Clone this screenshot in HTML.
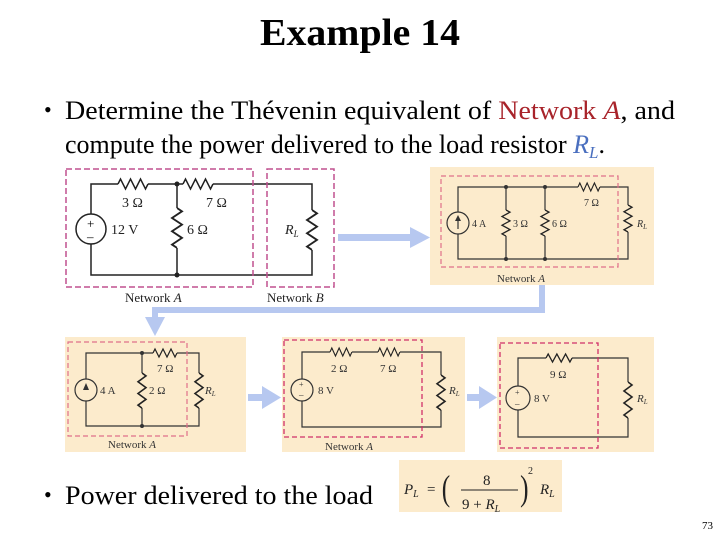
<!DOCTYPE html>
<html><head><meta charset="utf-8"><style>
html,body{margin:0;padding:0;background:#fff;width:720px;height:540px;overflow:hidden}
svg{display:block}
text{font-family:"Liberation Serif",serif}
</style></head><body>
<svg width="720" height="540" viewBox="0 0 720 540" xmlns="http://www.w3.org/2000/svg">
<defs>
<path id="zz" d="M0 5 L2.5 0 L7.5 10 L12.5 0 L17.5 10 L22.5 0 L27.5 10 L30 5" fill="none" stroke="#222" stroke-width="1.5"/>
</defs>
<text x="360" y="45" text-anchor="middle" font-size="38" font-weight="bold" textLength="200" lengthAdjust="spacingAndGlyphs">Example 14</text>
<text x="44" y="117" font-size="22">•</text>
<text x="65" y="119" font-size="26" textLength="610" lengthAdjust="spacingAndGlyphs">Determine the Thévenin equivalent of <tspan fill="#a8232a">Network <tspan font-style="italic">A</tspan></tspan>, and</text>
<text x="65" y="153" font-size="26" textLength="540" lengthAdjust="spacingAndGlyphs">compute the power delivered to the load resistor <tspan fill="#4a6fbf" font-style="italic">R<tspan font-size="17" dy="5">L</tspan></tspan><tspan dy="-5">.</tspan></text>

<!-- top-left circuit -->
<g stroke="#222" stroke-width="1.5" fill="none">
<path d="M91 214 V184 H118 M148 184 H183 M213 184 H312 V210 M312 250 V275 H91 V244 M177 184 V208 M177 248 V275"/>
<circle cx="91" cy="229" r="15"/>
</g>
<use href="#zz" transform="translate(118,179)"/>
<use href="#zz" transform="translate(183,179)"/>
<use href="#zz" transform="translate(182,208) rotate(90) scale(1.33,1)"/>
<use href="#zz" transform="translate(317,210) rotate(90) scale(1.33,1)"/>
<circle cx="177" cy="184" r="2.5" fill="#222"/><circle cx="177" cy="275" r="2.5" fill="#222"/>
<text x="87" y="228" font-size="13">+</text><text x="87" y="241" font-size="13">–</text>
<g font-size="14" fill="#222">
<text x="122" y="207">3 Ω</text><text x="206" y="207">7 Ω</text>
<text x="111" y="234">12 V</text><text x="187" y="234">6 Ω</text>
<text x="285" y="234" font-style="italic">R<tspan font-size="9" dy="3">L</tspan></text>
<text x="125" y="302" font-size="13">Network <tspan font-style="italic">A</tspan></text>
<text x="267" y="302" font-size="13">Network <tspan font-style="italic">B</tspan></text>
</g>
<g stroke="#c0508f" stroke-width="1.5" stroke-dasharray="6,3" fill="none">
<rect x="66" y="169" width="187" height="118"/><rect x="267" y="169" width="67" height="118"/>
</g>

<!-- top-right panel -->
<rect x="430" y="167" width="224" height="118" fill="#fcebcc"/>
<g stroke="#333" stroke-width="1.2" fill="none">
<path d="M458 212 V187 H578 M600 187 H628 V205 M628 232 V259 H458 V234 M506 187 V210 M506 236 V259 M545 187 V210 M545 236 V259 M458 229 V217"/>
<circle cx="458" cy="223" r="11"/>
</g>
<use href="#zz" transform="translate(578,183) scale(0.73,0.8)"/>
<use href="#zz" transform="translate(510,210) rotate(90) scale(0.87,0.8)"/>
<use href="#zz" transform="translate(549,210) rotate(90) scale(0.87,0.8)"/>
<use href="#zz" transform="translate(632,205) rotate(90) scale(0.9,0.8)"/>
<path d="M455 221 L458 215 L461 221 Z" fill="#333"/>
<g fill="#333"><circle cx="506" cy="187" r="2"/><circle cx="506" cy="259" r="2"/><circle cx="545" cy="187" r="2"/><circle cx="545" cy="259" r="2"/></g>
<g font-size="10" fill="#333">
<text x="472" y="227">4 A</text><text x="513" y="227">3 Ω</text><text x="552" y="227">6 Ω</text><text x="584" y="206">7 Ω</text>
<text x="637" y="227" font-style="italic">R<tspan font-size="7" dy="2">L</tspan></text>
<text x="497" y="282" font-size="11">Network <tspan font-style="italic">A</tspan></text>
</g>
<rect x="441" y="176" width="177" height="91" fill="none" stroke="#e0708a" stroke-width="1.2" stroke-dasharray="5,3"/>

<!-- arrows -->
<g fill="#b7c8f0">
<rect x="338" y="234" width="74" height="7"/><path d="M410 227 L430 237.5 L410 248 Z"/>
<rect x="539" y="285" width="6" height="28"/><rect x="152" y="307" width="393" height="6"/><rect x="152" y="307" width="6" height="12"/>
<path d="M145 317 L165 317 L155 336 Z"/>
<rect x="248" y="394" width="16" height="7"/><path d="M262 386 L281 397.5 L262 409 Z"/>
<rect x="467" y="394" width="14" height="7"/><path d="M479 386 L497 397.5 L479 409 Z"/>
</g>

<!-- bottom panel 1 -->
<rect x="65" y="337" width="181" height="115" fill="#fcebcc"/>
<g stroke="#333" stroke-width="1.2" fill="none">
<path d="M86 379 V353 H153 M177 353 H199 V373 M199 408 V426 H86 V401 M142 353 V373 M142 408 V426"/>
<circle cx="86" cy="390" r="11"/>
</g>
<use href="#zz" transform="translate(153,349) scale(0.8,0.8)"/>
<use href="#zz" transform="translate(146,373) rotate(90) scale(1.17,0.8)"/>
<use href="#zz" transform="translate(203,373) rotate(90) scale(1.17,0.8)"/>
<path d="M83 390 L86 383 L89 390 Z" fill="#333"/>
<g fill="#333"><circle cx="142" cy="353" r="2"/><circle cx="142" cy="426" r="2"/></g>
<g font-size="11" fill="#333">
<text x="100" y="394">4 A</text><text x="149" y="394">2 Ω</text><text x="157" y="372">7 Ω</text>
<text x="205" y="394" font-style="italic">R<tspan font-size="7" dy="2">L</tspan></text>
<text x="108" y="448">Network <tspan font-style="italic">A</tspan></text>
</g>
<rect x="68" y="342" width="119" height="94" fill="none" stroke="#e0708a" stroke-width="1.2" stroke-dasharray="5,3"/>

<!-- bottom panel 2 -->
<rect x="282" y="337" width="183" height="115" fill="#fcebcc"/>
<g stroke="#333" stroke-width="1.2" fill="none">
<path d="M302 379 V352 H330 M352 352 H378 M400 352 H441 V375 M441 410 V427 H302 V401"/>
<circle cx="302" cy="390" r="11"/>
</g>
<use href="#zz" transform="translate(330,348) scale(0.73,0.8)"/>
<use href="#zz" transform="translate(378,348) scale(0.73,0.8)"/>
<use href="#zz" transform="translate(445,375) rotate(90) scale(1.17,0.8)"/>
<g font-size="11" fill="#333">
<text x="299" y="387" font-size="8">+</text><text x="299" y="398" font-size="9">–</text>
<text x="318" y="394">8 V</text><text x="331" y="372">2 Ω</text><text x="380" y="372">7 Ω</text>
<text x="449" y="394" font-style="italic">R<tspan font-size="7" dy="2">L</tspan></text>
<text x="325" y="450">Network <tspan font-style="italic">A</tspan></text>
</g>
<rect x="284" y="340" width="138" height="97" fill="none" stroke="#d0306a" stroke-width="1.3" stroke-dasharray="5,3"/>

<!-- bottom panel 3 -->
<rect x="497" y="337" width="157" height="115" fill="#fcebcc"/>
<g stroke="#333" stroke-width="1.2" fill="none">
<path d="M518 386 V358 H546 M572 358 H628 V382 M628 418 V437 H518 V410"/>
<circle cx="518" cy="398" r="12"/>
</g>
<use href="#zz" transform="translate(546,354) scale(0.87,0.8)"/>
<use href="#zz" transform="translate(632,382) rotate(90) scale(1.2,0.8)"/>
<g font-size="11" fill="#333">
<text x="515" y="395" font-size="8">+</text><text x="515" y="407" font-size="9">–</text>
<text x="534" y="402">8 V</text><text x="550" y="378">9 Ω</text>
<text x="637" y="402" font-style="italic">R<tspan font-size="7" dy="2">L</tspan></text>
</g>
<rect x="500" y="343" width="98" height="105" fill="none" stroke="#d0306a" stroke-width="1.3" stroke-dasharray="5,3"/>

<!-- bottom bullet & formula -->
<text x="44" y="502" font-size="22">•</text>
<text x="65" y="504" font-size="26" textLength="308" lengthAdjust="spacingAndGlyphs">Power delivered to the load</text>
<rect x="399" y="460" width="163" height="52" fill="#fcebcc"/>
<g fill="#222" font-size="15">
<text x="404" y="494" font-style="italic">P<tspan font-size="10" dy="3">L</tspan></text>
<text x="427" y="494">=</text>
<text x="442" y="500" font-size="36" transform="scale(0.7,1) translate(189,0)">(</text>
<text x="483" y="485">8</text>
<line x1="461" y1="490" x2="518" y2="490" stroke="#222" stroke-width="1"/>
<text x="462" y="509">9 + <tspan font-style="italic">R<tspan font-size="10" dy="3">L</tspan></tspan></text>
<text x="520" y="500" font-size="36" transform="scale(0.7,1) translate(223,0)">)</text>
<text x="528" y="474" font-size="10">2</text>
<text x="540" y="494" font-style="italic">R<tspan font-size="10" dy="3">L</tspan></text>
</g>
<text x="713" y="529" font-size="11" text-anchor="end">73</text>
</svg>
</body></html>
